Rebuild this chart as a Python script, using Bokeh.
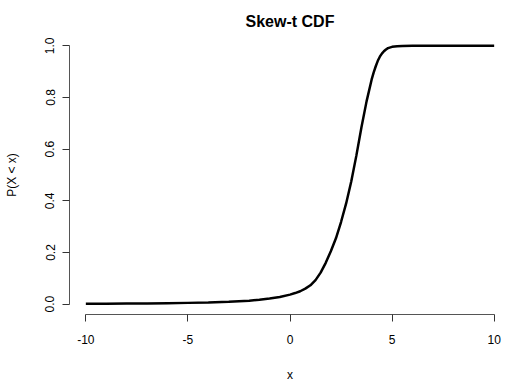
from bokeh.plotting import figure
from bokeh.models import Range1d, FixedTicker
from bokeh.embed import file_html
from bokeh.resources import INLINE

# Values
x_vals = [-10, -9, -8, -7, -6, -5, -4, -3, -2, -1.5, -1, -0.5, 0, 0.25, 0.5, 0.75,
          1.0, 1.25, 1.5, 1.75, 2.0, 2.25, 2.5, 2.75, 3.0, 3.25, 3.5, 3.75, 4.0,
          4.1, 4.2, 4.3, 4.4, 4.5, 4.6, 4.7, 4.8, 5.0, 5.25, 5.5, 6, 7, 8, 9, 10]
cdf_vals = [0.002, 0.002, 0.003, 0.003, 0.004, 0.005, 0.006, 0.009, 0.013, 0.017, 0.022,
            0.028, 0.037, 0.043, 0.050, 0.060, 0.073, 0.093, 0.122, 0.160, 0.205, 0.255,
            0.318, 0.390, 0.475, 0.575, 0.685, 0.785, 0.870, 0.897, 0.921, 0.942, 0.958,
            0.970, 0.979, 0.986, 0.991, 0.996, 0.998, 0.999, 1.0, 1.0, 1.0, 1.0, 1.0]
x_ticks = [-10, -5, 0, 5, 10]
x_tick_labels = ["-10", "-5", "0", "5", "10"]
y_ticks = [0.0, 0.2, 0.4, 0.6, 0.8, 1.0]
y_tick_labels = ["0.0", "0.2", "0.4", "0.6", "0.8", "1.0"]

FONT = "Liberation Sans"

p = figure(width=512, height=384, output_backend="svg", toolbar_location=None,
           x_range=Range1d(-10.8, 10.8), y_range=Range1d(-0.04, 1.04),
           title="Skew-t CDF", min_border_left=69, min_border_right=2,
           min_border_top=35, min_border_bottom=69)

p.line(x_vals, cdf_vals, line_color="black", line_width=2.5)

p.title.align = "center"
p.title.standoff = 12
p.title.text_font = FONT
p.title.text_font_size = "16px"
p.title.text_font_style = "bold"
p.title.text_color = "black"

p.xgrid.visible = False
p.ygrid.visible = False
p.outline_line_color = None
p.background_fill_color = "white"
p.border_fill_color = "white"

for ax in (p.xaxis[0], p.yaxis[0]):
    ax.axis_line_color = "#555555"
    ax.major_tick_line_color = "#333333"
    ax.major_tick_out = 7
    ax.major_tick_in = 0
    ax.minor_tick_line_color = None
    ax.major_label_text_font = FONT
    ax.major_label_text_font_size = "12px"
    ax.major_label_text_color = "black"
    ax.axis_label_text_font = FONT
    ax.axis_label_text_font_size = "12px"
    ax.axis_label_text_font_style = "normal"
    ax.axis_label_text_color = "black"

p.xaxis[0].ticker = FixedTicker(ticks=x_ticks)
p.xaxis[0].bounds = (x_ticks[0], x_ticks[-1])
p.xaxis[0].major_label_overrides = {t: l for t, l in zip(x_ticks, x_tick_labels)}
p.xaxis[0].axis_label = "x"
p.xaxis[0].major_label_standoff = 13
p.xaxis[0].axis_label_standoff = 21

p.yaxis[0].ticker = FixedTicker(ticks=y_ticks)
p.yaxis[0].bounds = (y_ticks[0], y_ticks[-1])
p.yaxis[0].major_label_overrides = {t: l for t, l in zip(y_ticks, y_tick_labels)}
p.yaxis[0].major_label_orientation = "parallel"
p.yaxis[0].axis_label = "P(X < x)"
p.yaxis[0].major_label_standoff = 8
p.yaxis[0].axis_label_standoff = 24

open("out.html", "w").write(file_html(p, INLINE))
